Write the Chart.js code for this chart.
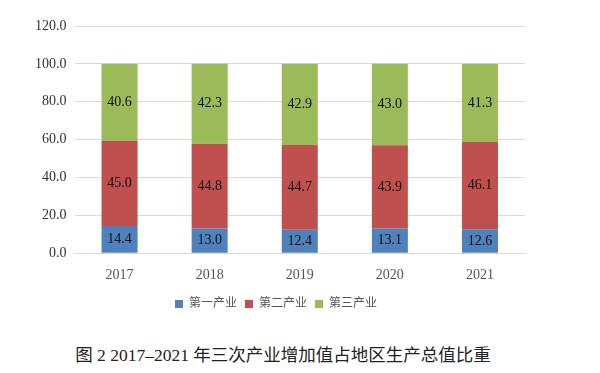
<!DOCTYPE html>
<html><head><meta charset="utf-8">
<script src="https://cdn.jsdelivr.net/npm/chart.js@4/dist/chart.umd.min.js"></script>
<style>
html,body{margin:0;padding:0;background:#fff;}
#wrap{position:absolute;left:0;top:0;width:600px;height:320px;}
#title{position:absolute;left:0;width:566px;text-align:center;top:341px;font-family:"Liberation Serif","Noto Sans CJK SC",serif;font-size:17.5px;color:#222;white-space:nowrap;}
</style></head>
<body>
<div id="wrap"><canvas id="c" width="600" height="320"></canvas></div>
<div id="title">图 2 2017–2021 年三次产业增加值占地区生产总值比重</div>
<script>
const categories = ["2017","2018","2019","2020","2021"];
const primary = [14.4, 13.0, 12.4, 13.1, 12.6];
const secondary = [45.0, 44.8, 44.7, 43.9, 46.1];
const tertiary = [40.6, 42.3, 42.9, 43.0, 41.3];
const seriesNames = ["第一产业","第二产业","第三产业"];

const labelPlugin = {
  id:'barLabels',
  afterDatasetsDraw(chart){
    const ctx = chart.ctx;
    ctx.save();
    ctx.font = '14px "Liberation Serif", serif';
    ctx.fillStyle = '#111';
    ctx.textAlign = 'center';
    ctx.textBaseline = 'middle';
    chart.data.datasets.forEach((ds,i)=>{
      const meta = chart.getDatasetMeta(i);
      meta.data.forEach((el,j)=>{
        const y = (el.y + el.base)/2;
        ctx.fillText(ds.data[j].toFixed(1), el.x, y);
      });
    });
    ctx.restore();
  }
};

new Chart(document.getElementById('c'), {
  type:'bar',
  data:{
    labels:categories,
    datasets:[
      {label:seriesNames[0], data:primary, backgroundColor:'#4f81bd'},
      {label:seriesNames[1], data:secondary, backgroundColor:'#c0504d'},
      {label:seriesNames[2], data:tertiary, backgroundColor:'#9bbb59'}
    ]
  },
  options:{
    responsive:false,
    animation:false,
    layout:{padding:{left:27,right:75,top:26,bottom:0}},
    datasets:{bar:{categoryPercentage:1.0, barPercentage:0.4}},
    scales:{
      x:{stacked:true, grid:{display:false}, border:{display:true,color:'#d9d9d9'},
         ticks:{color:'#555', font:{family:'"Liberation Serif", serif', size:14}, padding:6}},
      y:{stacked:true, min:0, max:120, border:{display:false},
         grid:{color:'#d9d9d9', drawTicks:false},
         ticks:{stepSize:20, color:'#333', padding:8, font:{family:'"Liberation Serif", serif', size:14},
                callback:v=>v.toFixed(1)}}
    },
    plugins:{
      legend:{position:'bottom', labels:{boxWidth:8, boxHeight:8, padding:8, color:'#555',
              font:{family:'"Liberation Serif","Noto Sans CJK SC", serif', size:12}}},
      tooltip:{enabled:false}
    }
  },
  plugins:[labelPlugin]
});
</script>
</body></html>
